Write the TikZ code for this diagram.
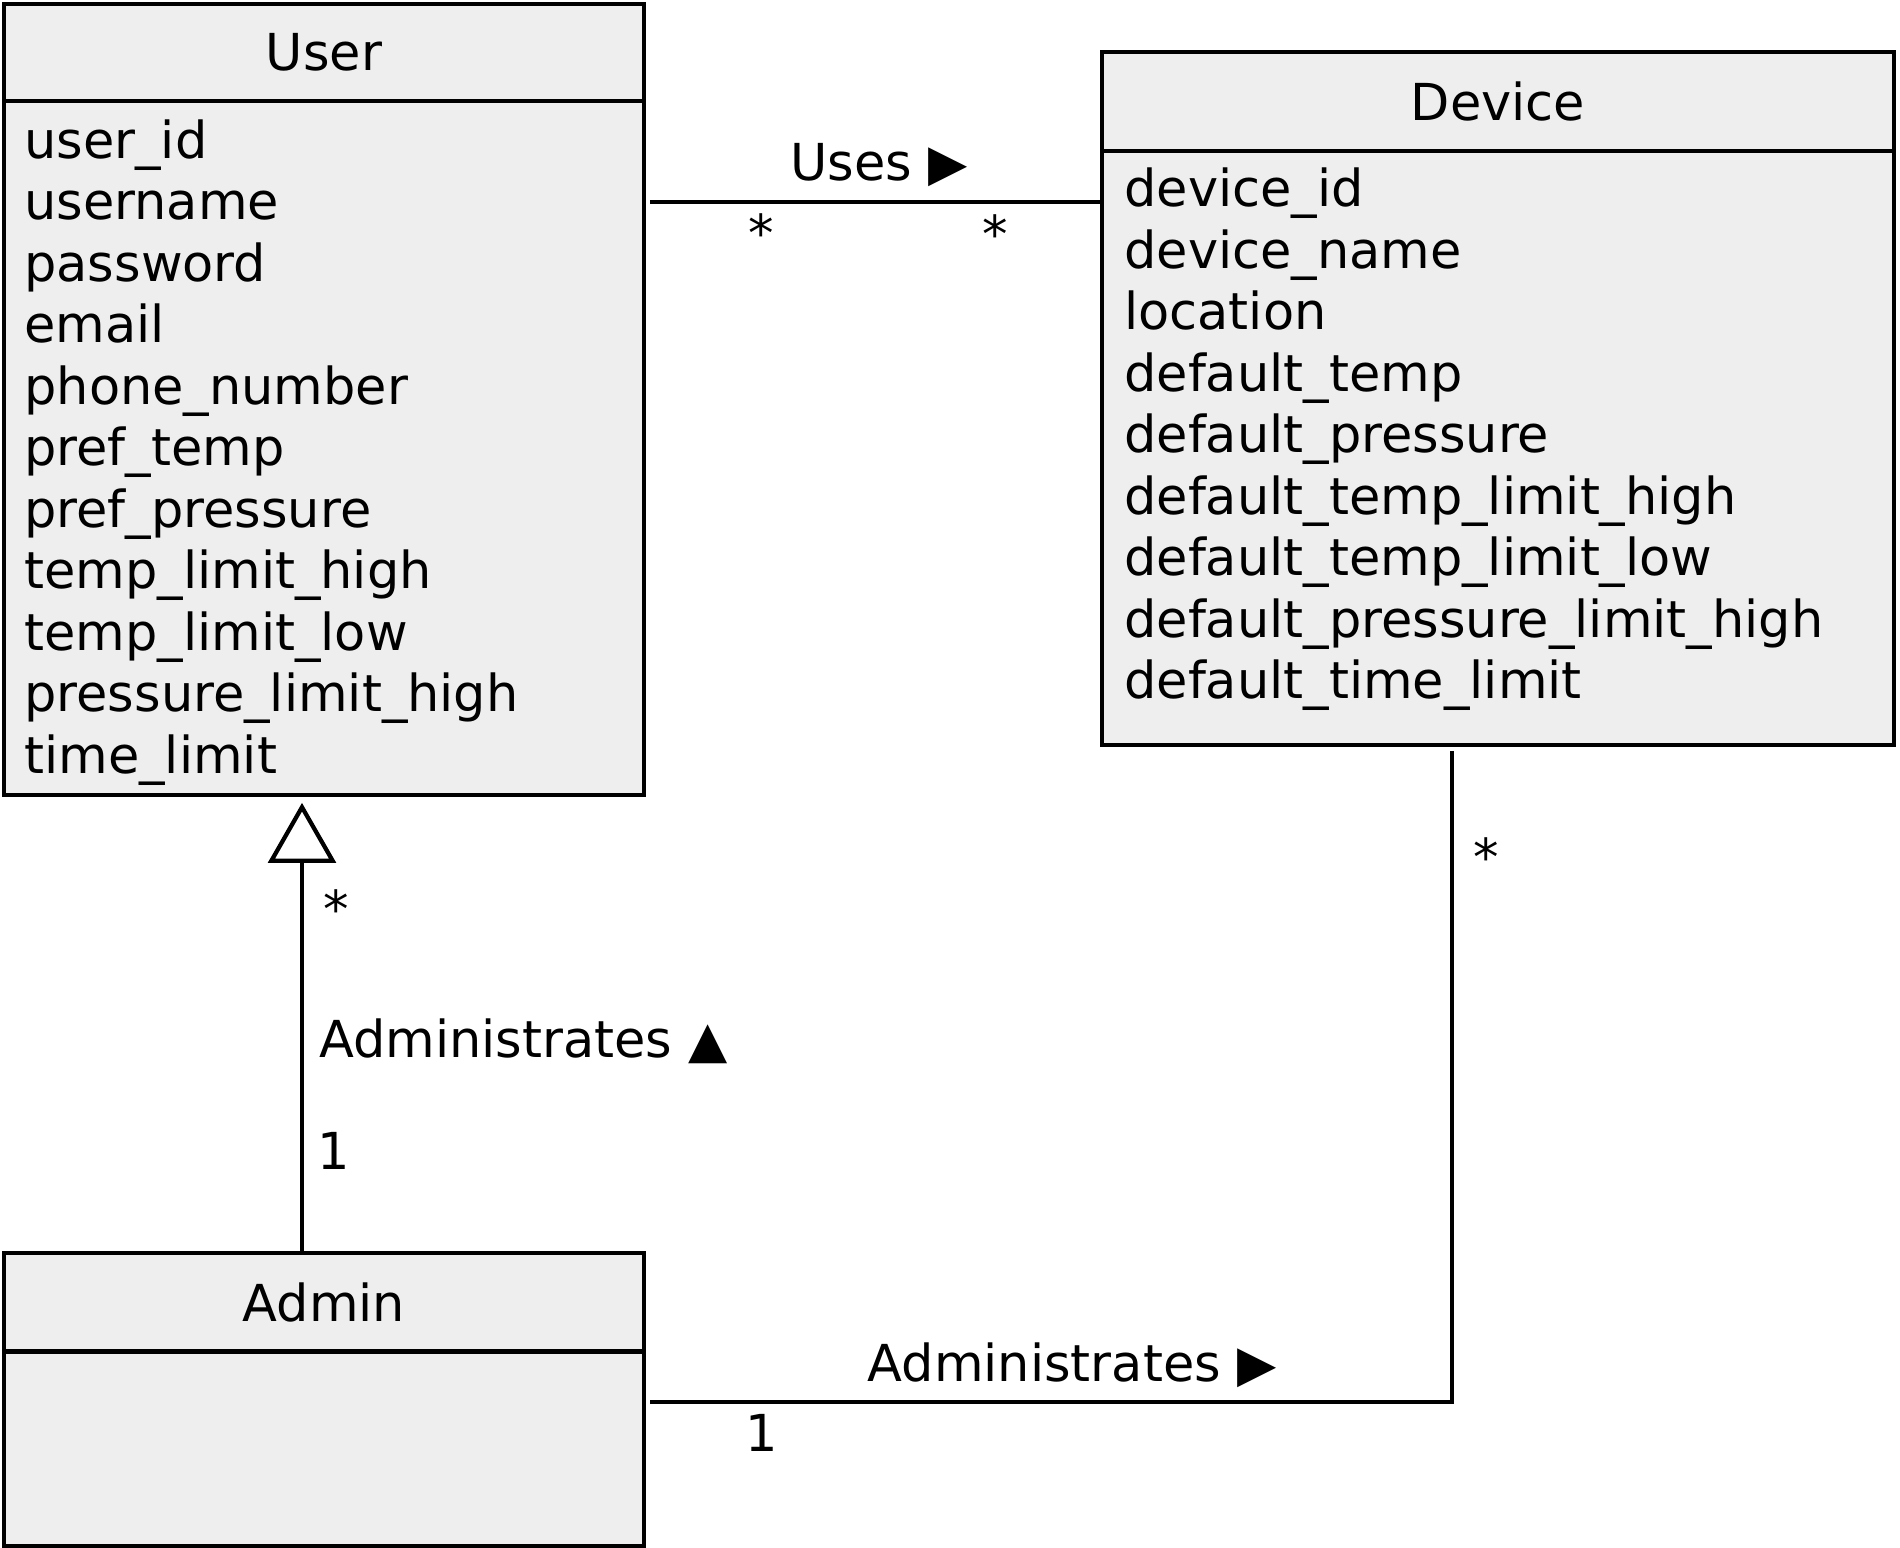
\documentclass[tikz,border=0pt]{standalone}
\usepackage{fontspec}
\setmainfont{DejaVu Sans}
\usetikzlibrary{arrows.meta}
\definecolor{classfill}{HTML}{EEEEEE}
\tikzset{
	umlline/.style={line width=0.085cm},
	classhead/.style={draw, fill=classfill, umlline, anchor=north west, inner sep=0pt, outer sep=0pt},
	attrlist/.style={anchor=base west, align=left, text width=15cm, inner sep=0pt},
	lbl/.style={anchor=base, inner sep=0pt},
}
\begin{document}
\begin{tikzpicture}[x=0.02cm, y=-0.02cm, font=\fontsize{29}{35}\selectfont]
		\useasboundingbox (0,0) rectangle (1900,1548);
		% classes
		\node (userhead) [classhead, minimum width=12.8cm, minimum height=1.94cm] at (4,4) {User};
		\node (userbody) [classhead, minimum width=12.8cm, minimum height=13.88cm] at (userhead.south west) {};
		\node (devhead) [classhead, minimum width=15.84cm, minimum height=1.98cm] at (1102,52) {Device};
		\node (devbody) [classhead, minimum width=15.84cm, minimum height=11.88cm] at (devhead.south west) {};
		\node (adminhead) [classhead, minimum width=12.8cm, minimum height=1.97cm] at (4,1253) {Admin};
		\node (adminbody) [classhead, minimum width=12.8cm, minimum height=3.89cm] at (adminhead.south west) {};
		
		% attributes
		\node (userattrs) [attrlist] at ([shift={(20,57.5)}]userbody.north west) {user\_id\\ username\\ password\\ email\\ phone\_number\\ pref\_temp\\ pref\_pressure\\ temp\_limit\_high\\ temp\_limit\_low\\ pressure\_limit\_high\\ time\_limit};
		\node (devattrs) [attrlist] at ([shift={(22,56)}]devbody.north west) {device\_id\\ device\_name\\ location\\ default\_temp\\ default\_pressure\\ default\_temp\_limit\_high\\ default\_temp\_limit\_low\\ default\_pressure\_limit\_high\\ default\_time\_limit};
		
		% connectors
		\coordinate (usesy) at (0,202);
		\coordinate (genx) at (302,0);
		\coordinate (admx) at (1452,0);
		\coordinate (admy) at (0,1402);
		\draw[umlline, shorten <=0.12cm] (userbody.east |- usesy) -- (devbody.west |- usesy);
		\draw[umlline, -{Triangle[open, length=1.2cm, width=1.35cm]}, shorten >=0.16cm] (adminhead.north -| genx) -- (userbody.south -| genx);
		\draw[umlline, shorten <=0.12cm, shorten >=0.12cm] (devbody.south -| admx) |- (adminbody.east |- admy);
		
		% labels
		\node (useslbl) [lbl] at (879,180) {Uses ▶};
		\node (usesmu) [lbl] at (761,251) {*};
		\node (usesmd) [lbl] at (995,252) {*};
		\node (genlbl) [lbl, anchor=base west] at (319,1057) {Administrates ▲};
		\node (genmu) [lbl] at (336,927) {*};
		\node (genma) [lbl] at (334,1169) {1};
		\node (admlbl) [lbl] at (1072,1381) {Administrates ▶};
		\node (admmd) [lbl] at (1486,875) {*};
		\node (admma) [lbl] at (762,1451) {1};
	\end{tikzpicture}
\end{document}
